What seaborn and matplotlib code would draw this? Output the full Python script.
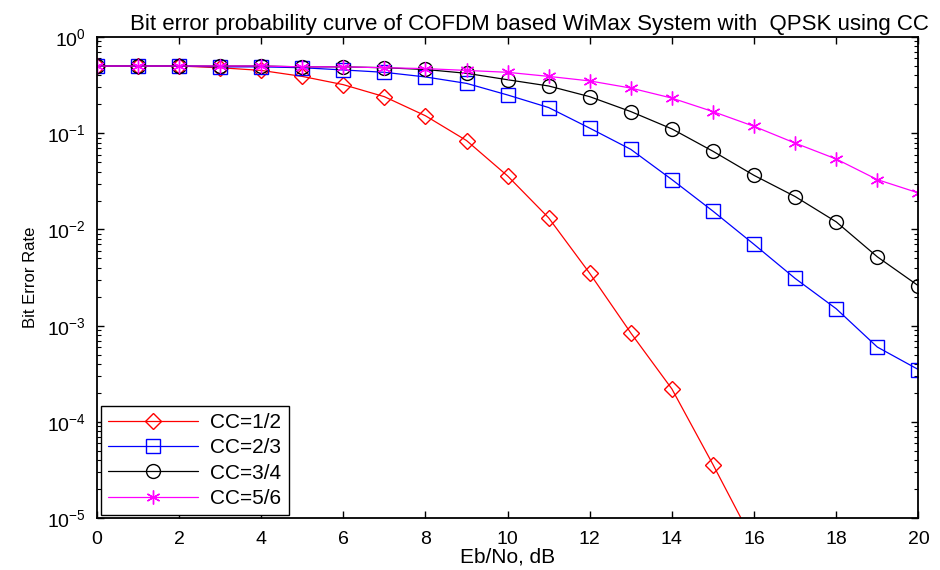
import numpy as np
import pandas as pd
import matplotlib
matplotlib.use("Agg")
import matplotlib.pyplot as plt
import seaborn as sns

# Eb/No axis (dB)
ebno = list(range(0, 21))

# BER values
ber_cc12 = [0.5, 0.5, 0.5, 0.48, 0.45, 0.39, 0.32, 0.24, 0.152, 0.084, 0.036,
            0.0132, 0.0035, 0.00084, 0.00022, 3.6e-5, 5.5e-6]
ber_cc23 = [0.5, 0.5, 0.5, 0.49, 0.49, 0.48, 0.455, 0.43, 0.385, 0.33, 0.25,
            0.185, 0.113, 0.068, 0.033, 0.0155, 0.007, 0.0031, 0.0015, 0.0006, 0.00035]
ber_cc34 = [0.5, 0.5, 0.5, 0.5, 0.5, 0.49, 0.49, 0.48, 0.46, 0.42, 0.36,
            0.31, 0.24, 0.168, 0.111, 0.065, 0.0365, 0.022, 0.012, 0.0052, 0.0026]
ber_cc56 = [0.5, 0.5, 0.5, 0.5, 0.5, 0.49, 0.49, 0.48, 0.47, 0.45, 0.43,
            0.39, 0.35, 0.295, 0.232, 0.168, 0.118, 0.079, 0.054, 0.033, 0.024]

labels = ["CC=1/2", "CC=2/3", "CC=3/4", "CC=5/6"]
series = [ber_cc12, ber_cc23, ber_cc34, ber_cc56]
colors = ["#ff0000", "#0000ff", "#000000", "#ff00ff"]
markers = ["D", "s", "o", (6, 2, 0)]
msizes = [8.5, 9.5, 10, 10]

sns.set_style("ticks")
plt.rcParams["font.family"] = ["Liberation Sans", "DejaVu Sans"]
plt.rcParams["mathtext.default"] = "regular"
plt.rcParams["text.color"] = "black"
plt.rcParams["axes.labelcolor"] = "black"
plt.rcParams["xtick.color"] = "black"
plt.rcParams["ytick.color"] = "black"

fig = plt.figure(figsize=(9.4, 5.7), dpi=100)
ax = fig.add_axes([0.103, 0.091, 0.874, 0.844])

for lab, vals, c, m, ms in zip(labels, series, colors, markers, msizes):
    sns.lineplot(x=ebno[:len(vals)], y=vals, ax=ax, color=c, marker=m,
                 markersize=ms, mfc="none", mec=c, mew=1.0, linewidth=0.9,
                 label=lab)

ax.set_yscale("log")
ax.set_xlim(0, 20)
ax.set_ylim(1e-5, 1)
ax.set_xticks(range(0, 21, 2))
ax.tick_params(which="both", direction="in", top=True, right=True,
               labelsize=14, colors="black")
ax.tick_params(which="major", length=5, width=1)
ax.tick_params(which="minor", length=3, width=0.8)
ax.tick_params(axis="x", which="major", pad=9)
ax.tick_params(axis="y", which="major", pad=8)
for sp in ax.spines.values():
    sp.set_visible(True)
    sp.set_linewidth(1.3)
    sp.set_color("black")

ax.set_title("Bit error probability curve of COFDM based WiMax System with  QPSK using CC",
             fontsize=16, pad=5, x=0.527)
ax.set_xlabel("Eb/No, dB", fontsize=15, labelpad=0)
ax.set_ylabel("Bit Error Rate", fontsize=12, labelpad=6)

leg = ax.legend(loc="lower left", bbox_to_anchor=(0.005, 0.006), borderaxespad=0,
                fontsize=15, handlelength=4.3, handletextpad=0.6,
                labelspacing=0.3, borderpad=0.35, fancybox=False,
                framealpha=1, edgecolor="black")
leg.get_frame().set_linewidth(1.0)

fig.savefig("out.png", dpi=100)
